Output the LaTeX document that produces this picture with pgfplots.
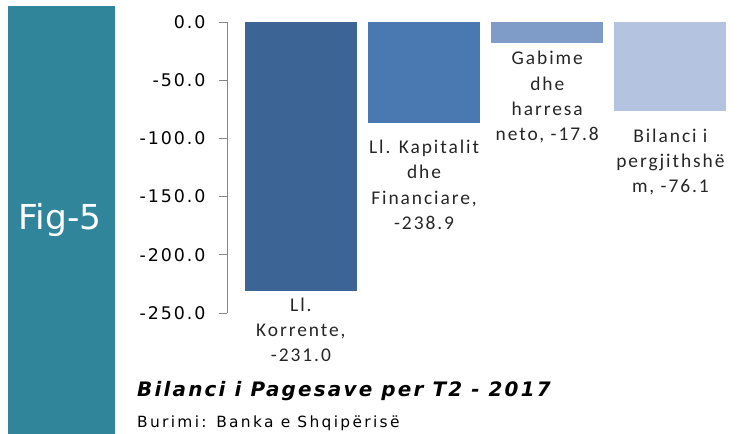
\documentclass[border=0pt]{standalone}
\usepackage{fontspec}
\setmainfont{DejaVu Sans}
\newfontfamily\tickfont[LetterSpace=11]{DejaVu Sans}
\newfontfamily\labfont[LetterSpace=10]{Carlito}
\newfontfamily\titlefont[LetterSpace=11]{DejaVu Sans}
\newfontfamily\srcfont[LetterSpace=15]{DejaVu Sans}
\newfontfamily\figfont{DejaVu Sans}
\usepackage{pgfplots}
\pgfplotsset{compat=1.18}
\definecolor{teal5}{HTML}{31859A}
\definecolor{c1}{HTML}{3C6494}
\definecolor{c2}{HTML}{4A79B1}
\definecolor{c3}{HTML}{7F9BC7}
\definecolor{c4}{HTML}{B4C3DF}
\definecolor{axgray}{HTML}{868686}
\begin{document}
\begin{tikzpicture}[x=1bp,y=1bp]
\useasboundingbox (0,0) rectangle (739,434);
\fill[teal5] (8,0) rectangle (115,428);
\node[text=white, font=\figfont\fontsize{34.5}{40}\selectfont] at (60,214) {Fig-5};
\begin{axis}[
  at={(227bp,121bp)}, anchor=south west,
  scale only axis, width=505bp, height=291bp,
  xmin=-0.6, xmax=3.5, ymin=-250, ymax=0,
  axis x line=none, axis y line*=left,
  axis line style={draw=axgray, line width=0.9bp, -},
  ytick={-250,-200,-150,-100,-50,0},
  tick align=outside, major tick length=8bp,
  ytick style={draw=axgray, line width=0.9bp},
  yticklabel style={font=\tickfont\fontsize{17.5}{20}\selectfont, xshift=-10bp,
    /pgf/number format/fixed, /pgf/number format/fixed zerofill, /pgf/number format/precision=1},
  /pgf/number format/assume math mode=true,
  clip=false,
]
\addplot[ybar, bar shift=0pt, bar width=112bp, fill=c1, draw=none] coordinates {(0,-231.0)};
\addplot[ybar, bar shift=0pt, bar width=112bp, fill=c2, draw=none] coordinates {(1,-86.5)};
\addplot[ybar, bar shift=0pt, bar width=112bp, fill=c3, draw=none] coordinates {(2,-17.8)};
\addplot[ybar, bar shift=0pt, bar width=112bp, fill=c4, draw=none] coordinates {(3,-76.1)};
\begin{scope}[every node/.style={align=center, anchor=base, inner sep=0pt, text=black!85, font=\labfont\fontsize{19.5}{25.5}\selectfont}]
\node at (axis cs:0,-292.1) {Ll.\\Korrente,\\-231.0};
\node at (axis cs:1,-178.3) {Ll. Kapitalit\\dhe\\Financiare,\\-238.9};
\node at (axis cs:2,-102.2) {Gabime\\dhe\\harresa\\neto, -17.8};
\node at (axis cs:3,-146.9) {Bilanci i\\pergjithshë\\m, -76.1};
\end{scope}
\end{axis}
\node[anchor=base west, inner sep=0pt, font=\titlefont\fontsize{20}{24}\selectfont\bfseries\itshape] at (137,37) {Bilanci i Pagesave per T2 - 2017};
\node[anchor=base west, inner sep=0pt, font=\srcfont\fontsize{15.5}{18}\selectfont] at (137,6) {Burimi: Banka e Shqipërisë};
\end{tikzpicture}
\end{document}
